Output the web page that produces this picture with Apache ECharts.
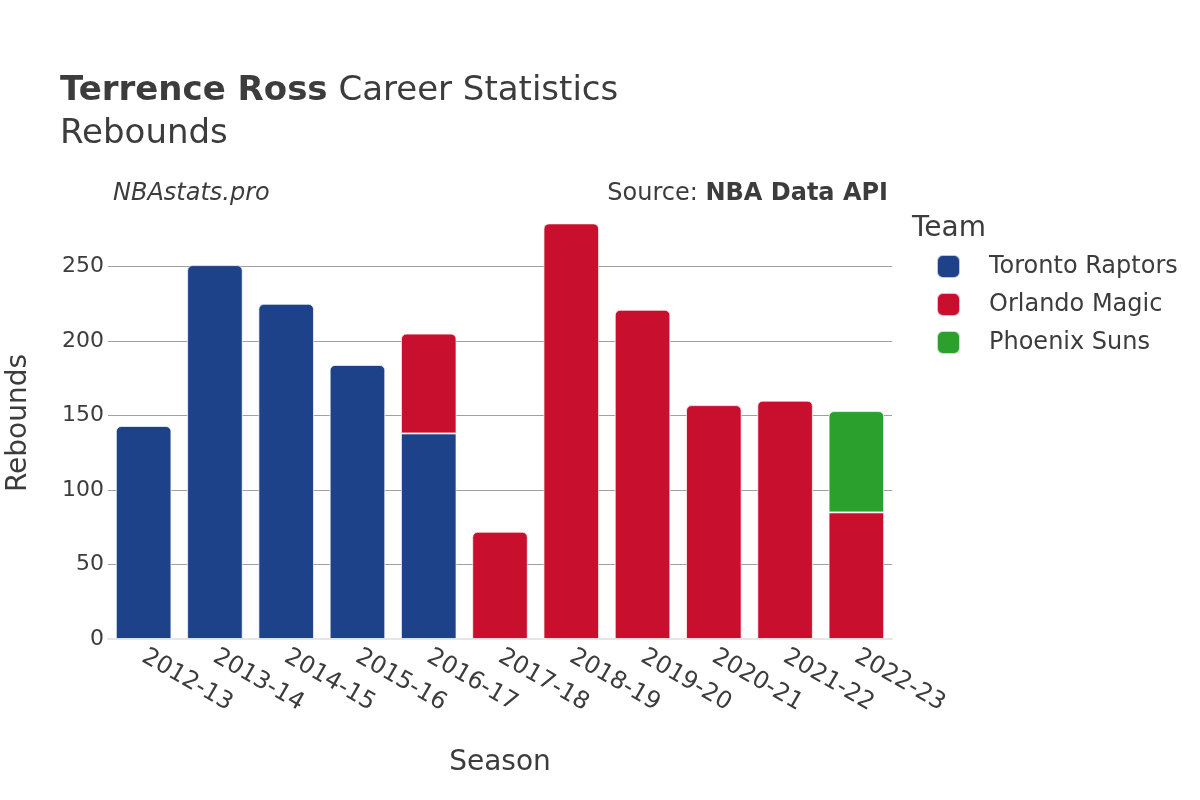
<!DOCTYPE html>
<html>
<head>
<meta charset="utf-8">
<script src="https://cdn.jsdelivr.net/npm/echarts@6/dist/echarts.min.js"></script>
<style>
  html, body { margin: 0; padding: 0; background: #fff; }
  #chart { width: 1200px; height: 800px; }
</style>
</head>
<body>
<div id="chart"></div>
<script>
  // seasons and rebounds per team
  const seasons = ['2012-13', '2013-14', '2014-15', '2015-16', '2016-17', '2017-18',
                   '2018-19', '2019-20', '2020-21', '2021-22', '2022-23'];
  const teams = ['Toronto Raptors', 'Orlando Magic', 'Phoenix Suns'];
  const toronto = [143, 251, 225, 184, 138, null, null, null, null, null, null];
  const orlando = [null, null, null, null, 67, 72, 279, 221, 157, 160, 85];
  const phoenix = [null, null, null, null, null, null, null, null, null, null, 68];
  const colors = ['#1d428a', '#c8102e', '#2ca02c'];
  const yTicks = [0, 50, 100, 150, 200, 250];

  const chart = echarts.init(document.getElementById('chart'));
  const font = 'DejaVu Sans';
  const txt = '#3c3c3c';

  const all = [toronto, orlando, phoenix];
  // rounded corners only on the top segment of each stack
  function buildData(idx) {
    return all[idx].map(function (v, i) {
      if (v == null) return null;
      let top = true;
      for (let k = idx + 1; k < all.length; k++) {
        if (all[k][i] != null) top = false;
      }
      return { value: v, itemStyle: { borderRadius: top ? [5, 5, 0, 0] : 0 } };
    });
  }

  const option = {
    backgroundColor: '#fff',
    animation: false,
    title: [
      {
        text: '{b|Terrence Ross} Career Statistics\nRebounds',
        left: 60, top: 70, padding: 0,
        textStyle: {
          fontFamily: font, fontSize: 34, fontWeight: 'normal', color: txt, lineHeight: 43,
          rich: { b: { fontFamily: font, fontSize: 34, fontWeight: 'bold', color: txt, lineHeight: 43 } }
        }
      },
      {
        text: 'NBAstats.pro',
        left: 113, top: 182, padding: 0,
        textStyle: { fontFamily: font, fontSize: 24, fontStyle: 'italic', fontWeight: 'normal', color: txt }
      },
      {
        text: 'Source: {b|NBA Data API}',
        right: 312, top: 182, padding: 0,
        textStyle: {
          fontFamily: font, fontSize: 24, fontWeight: 'normal', color: txt,
          rich: { b: { fontFamily: font, fontSize: 24, fontWeight: 'bold', color: txt } }
        }
      },
      {
        text: 'Team',
        left: 912, top: 215, padding: 0,
        textStyle: { fontFamily: font, fontSize: 28, fontWeight: 'normal', color: txt }
      }
    ],
    legend: {
      orient: 'vertical',
      left: 936, top: 254, padding: 0,
      icon: 'roundRect',
      itemWidth: 23, itemHeight: 23, itemGap: 13,
      data: teams,
      textStyle: { fontFamily: font, fontSize: 24, color: txt, padding: [0, 0, 0, 24] }
    },
    grid: { left: 108, right: 308, top: 207, bottom: 161, outerBoundsMode: 'none', containLabel: false },
    xAxis: {
      type: 'category',
      data: seasons,
      name: 'Season',
      nameLocation: 'middle',
      nameGap: 110,
      nameTextStyle: { fontFamily: font, fontSize: 28, color: txt },
      axisLine: { lineStyle: { color: '#e6e6e6', width: 2 } },
      axisTick: { show: false },
      axisLabel: { rotate: -30, fontFamily: font, fontSize: 24, color: txt, margin: 16, interval: 0 }
    },
    yAxis: {
      type: 'value',
      min: 0, max: 290, interval: 50,
      name: 'Rebounds',
      nameLocation: 'middle',
      nameGap: 75,
      nameTextStyle: { fontFamily: font, fontSize: 28, color: txt },
      axisLine: { show: false },
      axisTick: { show: false },
      splitLine: { showMaxLine: false, lineStyle: { color: '#a0a0a0', width: 1 } },
      axisLabel: {
        fontFamily: font, fontSize: 22, color: txt, margin: 4,
        formatter: function (v) { return yTicks.indexOf(v) >= 0 ? String(v) : ''; }
      }
    },
    series: teams.map(function (name, i) {
      return {
        name: name,
        type: 'bar',
        stack: 'total',
        barCategoryGap: '22%',
        itemStyle: { color: colors[i], borderColor: 'rgba(255,255,255,0.7)', borderWidth: 1 },
        data: buildData(i)
      };
    })
  };
  chart.setOption(option);
</script>
</body>
</html>
